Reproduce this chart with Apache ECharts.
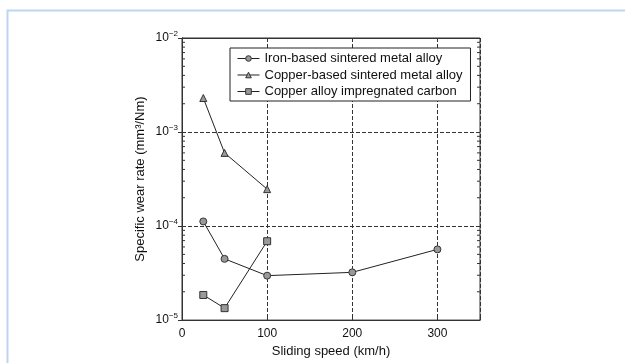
<!DOCTYPE html>
<html>
<head>
<meta charset="utf-8">
<script src="https://cdn.jsdelivr.net/npm/echarts@6/dist/echarts.min.js"></script>
<style>
  html, body { margin: 0; padding: 0; background: #fff; }
  #chart { width: 625px; height: 363px; }
</style>
</head>
<body>
<div id="chart"></div>
<script>
var speeds = [25, 50, 100, 200, 300]
var ironRate = [1.12e-4, 4.48e-5, 2.97e-5, 3.22e-5, 5.65e-5]
var copperSpeeds = [25, 50, 100]
var copperRate = [2.3e-3, 6.0e-4, 2.47e-4]
var carbonSpeeds = [25, 50, 100]
var carbonRate = [1.85e-5, 1.34e-5, 6.9e-5]
var decades = [1e-5, 1e-4, 1e-3]
var minorSteps = [2, 3, 4, 5, 6, 7, 8, 9]

var font = 'Liberation Sans, Arial, sans-serif'
var ink = '#222'

function pairs(xs, ys) {
  return xs.map(function (x, i) { return [x, ys[i]] })
}

var minorTicks = []
decades.forEach(function (d) {
  minorSteps.forEach(function (m) { minorTicks.push([0, d * m]) })
})

function logLabel(v) {
  var e = Math.round(Math.log10(v))
  return '{b|10}{s|\u2212' + (-e) + '}'
}

var lineSeries = function (name, symbol, data) {
  return {
    name: name,
    type: 'line',
    data: data,
    symbol: symbol,
    symbolSize: 7,
    lineStyle: { color: ink, width: 1 },
    itemStyle: { color: '#999', borderColor: '#333', borderWidth: 1 },
    z: 5
  }
}

var chart = echarts.init(document.getElementById('chart'))
chart.setOption({
  animation: false,
  textStyle: { fontFamily: font },
  grid: {
    left: 182, right: 145, top: 38, bottom: 39,
    show: true, borderColor: '#333', borderWidth: 1
  },
  graphic: [{
    type: 'polyline',
    shape: { points: [[7.5, 363], [7.5, 10.5], [625, 10.5]] },
    style: { stroke: '#bcd5f1', lineWidth: 2, fill: null }
  }],
  legend: {
    left: 230, top: 48,
    orient: 'vertical',
    padding: [4, 8, 3, 7],
    itemGap: 3.5,
    itemWidth: 22,
    itemHeight: 7,
    lineStyle: { width: 1, color: ink },
    itemStyle: { color: '#999', borderColor: '#333', borderWidth: 1 },
    borderColor: ink, borderWidth: 1,
    backgroundColor: '#fff',
    textStyle: { fontSize: 13, color: '#111', fontFamily: font }
  },
  xAxis: [{
    type: 'value',
    min: 0, max: 350, interval: 100,
    name: 'Sliding speed (km/h)',
    nameLocation: 'middle',
    nameGap: 22,
    nameTextStyle: { fontSize: 13, color: '#111' },
    axisLine: { lineStyle: { color: '#333' } },
    axisTick: { inside: true, length: 4, lineStyle: { color: '#333' } },
    axisLabel: {
      fontSize: 12, color: '#111', margin: 8,
      formatter: function (v) { return v === 350 ? '' : v }
    },
    splitLine: { show: true, lineStyle: { color: '#333', type: [4, 2], width: 1 } }
  }, {
    type: 'value', position: 'top',
    min: 0, max: 350, interval: 100,
    axisLine: { show: true, lineStyle: { color: '#333' } },
    axisTick: { inside: true, length: 4, lineStyle: { color: '#333' } },
    axisLabel: { show: false },
    splitLine: { show: false }
  }],
  yAxis: [{
    type: 'log',
    logBase: 10,
    min: 1e-5, max: 1e-2,
    name: 'Specific wear rate (mm\u00b3/Nm)',
    nameLocation: 'middle',
    nameGap: 35,
    nameTextStyle: { fontSize: 13, color: '#111' },
    axisLine: { show: true, lineStyle: { color: '#333' } },
    axisTick: { inside: true, length: 4, lineStyle: { color: '#333' } },
    axisLabel: {
      margin: 4,
      formatter: logLabel,
      rich: {
        b: { fontSize: 12, color: '#111', fontFamily: font },
        s: { fontSize: 8, color: '#111', fontFamily: font, padding: [0, 0, 9, 0] }
      }
    },
    splitLine: { show: true, lineStyle: { color: '#333', type: [4, 2], width: 1 } }
  }, {
    type: 'log',
    logBase: 10,
    min: 1e-5, max: 1e-2,
    position: 'right',
    axisLine: { show: true, lineStyle: { color: '#333' } },
    axisTick: { inside: true, length: 4, lineStyle: { color: '#333' } },
    axisLabel: { show: false },
    splitLine: { show: false }
  }],
  series: [
    lineSeries('Iron-based sintered metal alloy', 'circle', pairs(speeds, ironRate)),
    lineSeries('Copper-based sintered metal alloy', 'triangle', pairs(copperSpeeds, copperRate)),
    lineSeries('Copper alloy impregnated carbon', 'rect', pairs(carbonSpeeds, carbonRate)),
    {
      type: 'custom',
      silent: true,
      data: minorTicks,
      renderItem: function (params, api) {
        var left = api.coord([0, api.value(1)])
        var right = api.coord([350, api.value(1)])
        var st = { stroke: '#333', lineWidth: 1 }
        return {
          type: 'group',
          children: [
            { type: 'line', shape: { x1: left[0], y1: left[1], x2: left[0] + 3, y2: left[1] }, style: st },
            { type: 'line', shape: { x1: right[0], y1: right[1], x2: right[0] - 3, y2: right[1] }, style: st }
          ]
        }
      },
      z: 3
    }
  ]
})
</script>
</body>
</html>
